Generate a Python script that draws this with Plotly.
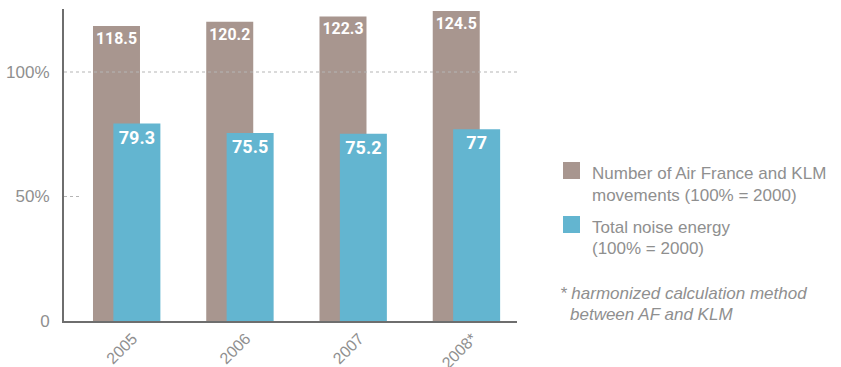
import plotly.graph_objects as go

years = ["2005", "2006", "2007", "2008*"]
movements = [118.5, 120.2, 122.3, 124.5]
noise = [79.3, 75.5, 75.2, 77]
movements_label = ["118.5", "120.2", "122.3", "124.5"]
noise_label = ["79.3", "75.5", "75.2", "77"]
y_tickvals = [0, 50, 100]
y_ticktext = ["0", "50%", "100%"]

BROWN = "#a8968f"
BLUE = "#63b5d0"
GRAY_TXT = "#8f8f8f"
AXIS = "#6e6e6e"
BAR_FONT = dict(family="Liberation Sans Narrow, Roboto, Arial", size=18, color="white", weight="bold")

fig = go.Figure()
fig.add_trace(go.Bar(
    x=years, y=movements, text=movements_label, name="Number of Air France and KLM movements (100% = 2000)",
    marker=dict(color=BROWN, line=dict(width=0)),
    offset=-0.244, width=0.415,
    textposition="inside", insidetextanchor="end", textfont=BAR_FONT,
    textangle=0, cliponaxis=False, showlegend=False,
))
fig.add_trace(go.Bar(
    x=years, y=noise, text=noise_label, name="Total noise energy (100% = 2000)",
    marker=dict(color=BLUE, line=dict(width=0)),
    offset=-0.064, width=0.415,
    textposition="inside", insidetextanchor="end", textfont=BAR_FONT,
    textangle=0, cliponaxis=False, showlegend=False,
))

fig.update_layout(
    width=841, height=367,
    margin=dict(l=64, r=324, t=9, b=46),
    paper_bgcolor="white", plot_bgcolor="white",
    barmode="overlay",
    font=dict(family="Liberation Sans, Arial", color=GRAY_TXT),
)
fig.update_xaxes(
    type="category", range=[-0.5, 3.5], automargin=False,
    showline=True, linecolor=AXIS, linewidth=2,
    showgrid=False, ticks="", tickangle=-45,
    tickfont=dict(size=16, color=GRAY_TXT), ticklabelshift=12, ticklabelstandoff=0,
)
fig.update_yaxes(
    range=[0, 125.3], showline=True, linecolor=AXIS, linewidth=2, automargin=False,
    showgrid=False, zeroline=False, ticks="",
    tickvals=y_tickvals, ticktext=y_ticktext,
    tickfont=dict(size=17, color=GRAY_TXT), ticklabelstandoff=9,
)

# dashed reference line at 100% (drawn above bars) and short dash mark at 50%
fig.add_shape(type="line", xref="paper", yref="y", x0=0, x1=1, y0=100, y1=100,
              line=dict(color="#b5b5b5", width=1, dash="3px,3px"), layer="above")
fig.add_shape(type="line", xref="paper", yref="y", x0=0, x1=0.035, y0=50, y1=50,
              line=dict(color="#b5b5b5", width=1, dash="3px,3px"), layer="below")

# custom legend
leg_font = dict(family="Liberation Sans, Arial", size=17, color=GRAY_TXT)
fig.add_shape(type="rect", xref="paper", yref="paper",
              x0=(563 - 64) / 453, x1=(580 - 64) / 453,
              y0=(321 - 179) / 312, y1=(321 - 162) / 312,
              fillcolor=BROWN, line=dict(width=0))
fig.add_shape(type="rect", xref="paper", yref="paper",
              x0=(563 - 64) / 453, x1=(580 - 64) / 453,
              y0=(321 - 233) / 312, y1=(321 - 216) / 312,
              fillcolor=BLUE, line=dict(width=0))

def ann(text, px, py, italic=False):
    f = dict(leg_font)
    if italic:
        f["style"] = "italic"
    fig.add_annotation(text=text, xref="paper", yref="paper",
                       x=(px - 64) / 453, y=(321 - py) / 312,
                       xanchor="left", yanchor="middle", showarrow=False,
                       font=f, align="left")

ann("Number of Air France and KLM", 590, 173)
ann("movements (100% = 2000)", 590, 195)
ann("Total noise energy", 590, 227)
ann("(100% = 2000)", 590, 249)
ann("* harmonized calculation method", 558, 293, italic=True)
ann("between AF and KLM", 568, 314, italic=True)

fig.write_html("out.html")
